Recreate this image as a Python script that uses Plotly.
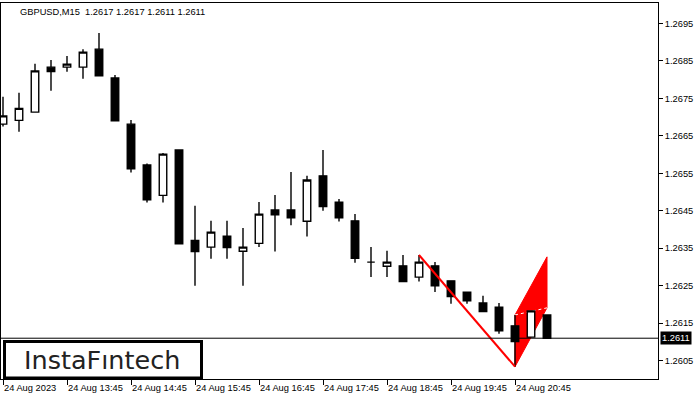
import plotly.graph_objects as go

# ---- data ----
times = ["12:45", "13:00", "13:15", "13:30", "13:45", "14:00", "14:15", "14:30", "14:45", "15:00",
         "15:15", "15:30", "15:45", "16:00", "16:15", "16:30", "16:45", "17:00", "17:15", "17:30",
         "17:45", "18:00", "18:15", "18:30", "18:45", "19:00", "19:15", "19:30", "19:45", "20:00",
         "20:15", "20:30", "20:45", "21:00", "21:15"]
opens = [1.26681, 1.26691, 1.26713, 1.26833, 1.26833, 1.26833, 1.26881, 1.26804, 1.26681, 1.26572,
         1.26491, 1.26612, 1.26371, 1.26353, 1.26382, 1.26342, 1.26363, 1.26452, 1.26452, 1.26422,
         1.26543, 1.26473, 1.26423, 1.26313, 1.26302, 1.26303, 1.26273, 1.26303, 1.26263, 1.26233,
         1.26204, 1.26193, 1.26143, 1.26113, 1.26172]
highs = [1.26754, 1.26765, 1.26842, 1.26852, 1.26863, 1.26881, 1.26924, 1.26812, 1.26692, 1.26576,
         1.26604, 1.26612, 1.26463, 1.26423, 1.26423, 1.26404, 1.26473, 1.26492, 1.26553, 1.26543,
         1.26612, 1.26481, 1.26441, 1.26353, 1.26343, 1.26332, 1.26332, 1.26313, 1.26263, 1.26233,
         1.26223, 1.26204, 1.26172, 1.26183, 1.26172]
lows = [1.26675, 1.26661, 1.26712, 1.26770, 1.26821, 1.26802, 1.26810, 1.26690, 1.26552, 1.26472,
        1.26472, 1.26362, 1.26250, 1.26322, 1.26322, 1.26250, 1.26353, 1.26341, 1.26411, 1.26381,
        1.26450, 1.26421, 1.26311, 1.26273, 1.26273, 1.26261, 1.26261, 1.26233, 1.26202, 1.26202,
        1.26181, 1.26122, 1.26034, 1.26113, 1.26110]
closes = [1.26703, 1.26723, 1.26823, 1.26821, 1.26841, 1.26873, 1.26810, 1.26690, 1.26562, 1.26479,
          1.26601, 1.26362, 1.26341, 1.26393, 1.26352, 1.26353, 1.26441, 1.26439, 1.26431, 1.26532,
          1.26461, 1.26431, 1.26323, 1.26313, 1.26313, 1.26261, 1.26313, 1.26250, 1.26221, 1.26210,
          1.26181, 1.26130, 1.26101, 1.26183, 1.26110]

last_price = 1.2611
title_text = "GBPUSD,M15\u00a0\u00a01.2617 1.2617 1.2611 1.2611"

# flag pattern (bar indices and prices)
pole_idx = [26, 32]
pole_price = [1.26332, 1.26034]
flag_idx = [32, 32, 34, 34]
flag_price = [1.26034, 1.26172, 1.26327, 1.26191]
flag_mid_idx = [32, 34]
flag_mid_price = [1.26172, 1.26191]

y_ticks = [1.2605, 1.2615, 1.2625, 1.2635, 1.2645, 1.2655, 1.2665, 1.2675, 1.2685, 1.2695]
x_tick_times = ["12:45", "13:45", "14:45", "15:45", "16:45", "17:45", "18:45", "19:45", "20:45"]
x_tick_text = ["24 Aug 2023", "24 Aug 13:45", "24 Aug 14:45", "24 Aug 15:45", "24 Aug 16:45",
               "24 Aug 17:45", "24 Aug 18:45", "24 Aug 19:45", "24 Aug 20:45"]

FONT = "Liberation Sans, Arial, sans-serif"
xpos = list(range(len(times)))
x_tick_idx = [times.index(t) for t in x_tick_times]

fig = go.Figure()

fig.add_trace(go.Candlestick(
    x=xpos, open=opens, high=highs, low=lows, close=closes,
    increasing=dict(line=dict(color="black", width=1.4), fillcolor="white"),
    decreasing=dict(line=dict(color="black", width=1.4), fillcolor="black"),
    whiskerwidth=0, showlegend=False, hoverinfo="skip"))

# flag pole (above candles)
fig.add_trace(go.Scatter(
    x=pole_idx, y=pole_price, mode="lines",
    line=dict(color="#ff0000", width=2), hoverinfo="skip", showlegend=False))

# flag body (below candles)
path = "M " + " L ".join(f"{x},{y}" for x, y in zip(flag_idx, flag_price)) + " Z"
fig.add_shape(type="path", path=path, xref="x", yref="y", layer="below",
              fillcolor="#ff0000", line=dict(color="#ff0000", width=1))
fig.add_shape(type="line", xref="x", yref="y", layer="below",
              x0=flag_mid_idx[0], y0=flag_mid_price[0], x1=flag_mid_idx[1], y1=flag_mid_price[1],
              line=dict(color="white", width=1, dash="dot"))

# current price line
fig.add_shape(type="line", xref="paper", x0=0, x1=1, yref="y", y0=last_price, y1=last_price,
              line=dict(color="black", width=1))

# logo box
fig.add_shape(type="rect", xref="paper", yref="paper",
              x0=(4.5 - 1) / 657, x1=(201.5 - 1) / 657,
              y0=(379 - 378) / 376, y1=(379 - 341.5) / 376,
              line=dict(color="black", width=3), fillcolor="white", layer="above")
fig.add_annotation(xref="paper", yref="paper", x=(102 - 1) / 657, y=(379 - 360) / 376,
                   text="InstaFıntech", showarrow=False, xanchor="center", yanchor="middle",
                   font=dict(family="DejaVu Sans, sans-serif", size=25.5, color="#222222"))

# title
fig.add_annotation(xref="paper", yref="paper", x=(18 - 1) / 657, y=1, yshift=-2,
                   text=title_text, showarrow=False, xanchor="left", yanchor="top",
                   font=dict(family=FONT, size=9.3, color="black"))

# price label
fig.add_annotation(xref="paper", yref="y", x=1, y=last_price, xshift=2,
                   text="1.2611", showarrow=False, xanchor="left", yanchor="middle",
                   bgcolor="black", borderpad=1,
                   font=dict(family=FONT, size=9.3, color="white"))

fig.update_layout(
    width=700, height=400,
    margin=dict(l=1, r=42, t=3, b=21, autoexpand=False),
    paper_bgcolor="white", plot_bgcolor="white",
    boxgap=0.33,
    showlegend=False,
    font=dict(family=FONT, size=9.3, color="black"),
    xaxis=dict(
        range=[-0.125, 40.9375],
        rangeslider=dict(visible=False),
        tickvals=x_tick_idx, ticktext=x_tick_text,
        ticks="outside", ticklen=5, tickcolor="black", tickwidth=1,
        ticklabelposition="outside right",
        showgrid=False, zeroline=False, automargin=False,
        showline=True, linecolor="black", linewidth=1, mirror=True,
        tickfont=dict(family=FONT, size=9.3, color="black"),
    ),
    yaxis=dict(
        side="right",
        range=[1.260012, 1.270041],
        tickvals=y_ticks, ticktext=[f"{v:.4f}" for v in y_ticks],
        ticks="outside", ticklen=4, tickcolor="black", tickwidth=1,
        showgrid=False, zeroline=False, automargin=False,
        showline=True, linecolor="black", linewidth=1, mirror=True,
        tickfont=dict(family=FONT, size=9.3, color="black"),
    ),
)

fig.write_html("out.html", config={"displayModeBar": False},
               post_script="document.body.style.margin='0px';")
